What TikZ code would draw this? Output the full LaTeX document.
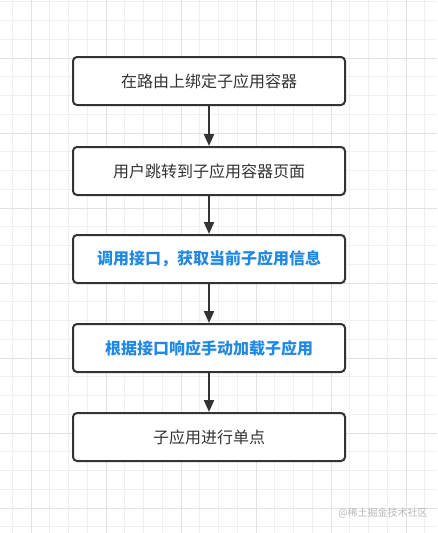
\documentclass[tikz,border=0pt]{standalone}
\usepackage{fontspec}
\newfontfamily\cjk{Noto Sans CJK SC}
\usetikzlibrary{arrows.meta}
\definecolor{gridminor}{HTML}{F0F0F0}
\definecolor{gridmajor}{HTML}{E2E2E2}
\definecolor{boxline}{HTML}{333333}
\definecolor{txtdark}{HTML}{333333}
\definecolor{txtblue}{HTML}{2188E3}
\definecolor{wm}{HTML}{B8B8B8}
\tikzset{
  stepbox/.style={draw=boxline, line width=2pt, rounded corners=4pt, fill=white,
    minimum width=272pt, minimum height=48pt, inner sep=0pt,
    font=\cjk\fontsize{16pt}{18pt}\selectfont, text=txtdark},
  bluetext/.style={text=txtblue, font=\cjk\bfseries\fontsize{16pt}{18pt}\selectfont},
  flow/.style={draw=boxline, line width=2pt, -{Triangle[length=12pt,width=10pt]}},
}
\begin{document}
\begin{tikzpicture}[x=1pt,y=-1pt]
\useasboundingbox (0,0) rectangle (437,533);
\fill[white] (0,0) rectangle (437,533);
% minor grid
\foreach \i in {0,...,23} {\draw[gridminor, line width=1pt] ({12.25+\i*18.75},0) -- ++(0,533);}
\foreach \i in {0,...,28} {\draw[gridminor, line width=1pt] (0,{1.75+\i*18.75}) -- ++(437,0);}
% major grid
\foreach \i in {0,...,5} {\draw[gridmajor, line width=1pt] ({31+\i*75},0) -- ++(0,533);}
\foreach \i in {0,...,6} {\draw[gridmajor, line width=1pt] (0,{58+\i*75}) -- ++(437,0);}
% boxes
\node[stepbox] (b1) at (209,81) {在路由上绑定子应用容器};
\node[stepbox] (b2) at (209,171) {用户跳转到子应用容器页面};
\node[stepbox, bluetext] (b3) at (209,259) {调用接口，获取当前子应用信息};
\node[stepbox, bluetext] (b4) at (209,348) {根据接口响应手动加载子应用};
\node[stepbox] (b5) at (209,437) {子应用进行单点};
% connectors
\draw[flow] (b1.south) -- (b2.north);
\draw[flow] (b2.south) -- (b3.north);
\draw[flow] (b3.south) -- (b4.north);
\draw[flow] (b4.south) -- (b5.north);
% watermark
\node[text=wm, font=\cjk\fontsize{10pt}{12pt}\selectfont, inner sep=0pt] (wm) at (383,513) {@稀土掘金技术社区};
\end{tikzpicture}
\end{document}
